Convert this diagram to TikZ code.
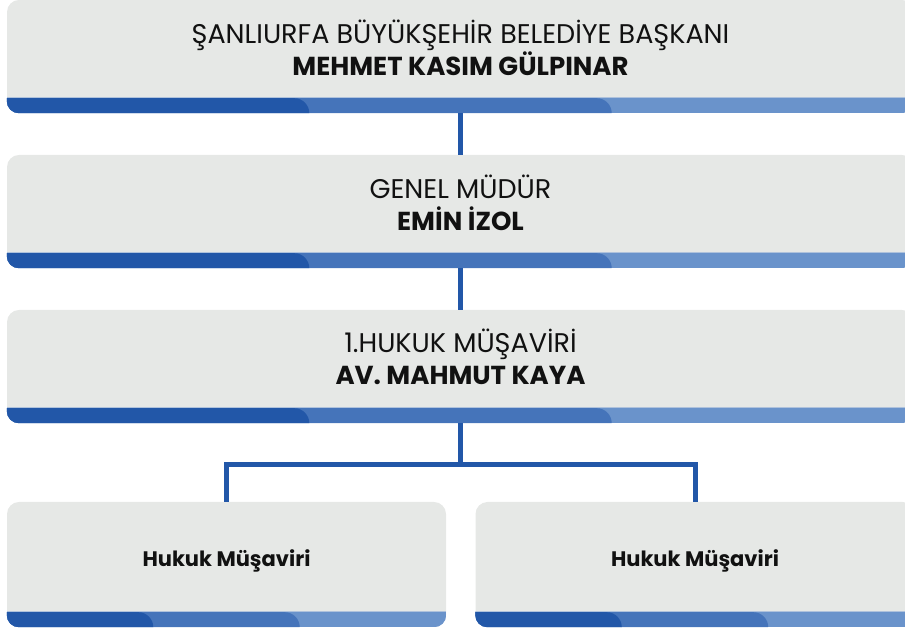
\documentclass[tikz,border=0pt]{standalone}
\usepackage{fontspec}
\setmainfont{Poppins}
\usetikzlibrary{positioning, calc}
\definecolor{kutugri}{HTML}{E6E8E6}
\definecolor{koyumavi}{HTML}{2257A8}
\definecolor{ortamavi}{HTML}{4574BA}
\definecolor{acikmavi}{HTML}{6A93CB}
\definecolor{cizgimavi}{HTML}{AFC2DC}
\definecolor{yazirenk}{HTML}{111111}

\tikzset{
  kutu/.style={fill=kutugri, rounded corners=12pt, inner sep=0pt, minimum height=113pt},
  genis/.style={kutu, minimum width=907pt},
  dar/.style={kutu, minimum width=439pt, minimum height=125pt},
  unvan/.style={font=\fontsize{27}{32}\selectfont, align=center, text=yazirenk},
  birim/.style={font=\bfseries\fontsize{21}{26}\selectfont, text=yazirenk},
  baglanti/.style={draw=koyumavi, line width=5pt}
}

% bold name line
\newcommand\isim[1]{{\bfseries\fontsize{26}{32}\selectfont #1}}

% bottom strip of a box: three blue pieces
\newcommand\altserit[1]{%
  \begin{scope}
    \clip[rounded corners=12pt] (#1.south west) rectangle (#1.north east);
    \fill[cizgimavi] ($(#1.south west)+(0,15)$) rectangle ($(#1.south east)+(0,16.5)$);
    \fill[acikmavi] (#1.south west) rectangle ($(#1.south east)+(0,15)$);
    \fill[ortamavi] (#1.south west) -- ++(0,15)
      -- ($(#1.south west)!2/3!(#1.south east)+(-15,15)$)
      arc[start angle=90, end angle=0, radius=15] -- cycle;
    \fill[koyumavi] (#1.south west) -- ++(0,15)
      -- ($(#1.south west)!1/3!(#1.south east)+(-15,15)$)
      arc[start angle=90, end angle=0, radius=15] -- cycle;
  \end{scope}}

\begin{document}
\begin{tikzpicture}[x=1pt, y=1pt]
  \useasboundingbox (0,0) rectangle (905,631);
  \clip (0,0) rectangle (905,631);

  % Boxes
  \node[genis] (baskan) at (460.5,574.5) {};
  \node[genis] (genel) at (460.5,419.5) {};
  \node[genis] (hukuk) at (460.5,264.5) {};
  \node[dar] (musavir1) at (226.5,66.5) {};
  \node[dar] (musavir2) at (695,66.5) {};

  % Strips
  \altserit{baskan}
  \altserit{genel}
  \altserit{hukuk}
  \altserit{musavir1}
  \altserit{musavir2}

  % Texts
  \node[unvan] (baskanyazi) at ([yshift=9pt]baskan.center)
    {ŞANLIURFA BÜYÜKŞEHİR BELEDİYE BAŞKANI\\\isim{MEHMET KASIM GÜLPINAR}};
  \node[unvan] (genelyazi) at ([yshift=9pt]genel.center)
    {GENEL MÜDÜR\\\isim{EMİN İZOL}};
  \node[unvan] (hukukyazi) at ([yshift=9.5pt]hukuk.center)
    {1.HUKUK MÜŞAVİRİ\\\isim{AV. MAHMUT KAYA}};
  \node[birim] (musavir1yazi) at ([yshift=4pt]musavir1.center) {Hukuk Müşaviri};
  \node[birim] (musavir2yazi) at ([yshift=4pt]musavir2.center) {Hukuk Müşaviri};

  % Connectors
  \draw[baglanti] (baskan.south) -- (genel.north);
  \draw[baglanti] (genel.south) -- (hukuk.north);
  \draw[baglanti] (hukuk.south) -- ++(0,-41.5) coordinate (ayrim) -| (musavir1.north);
  \draw[baglanti] (ayrim) -| (musavir2.north);
\end{tikzpicture}
\end{document}
